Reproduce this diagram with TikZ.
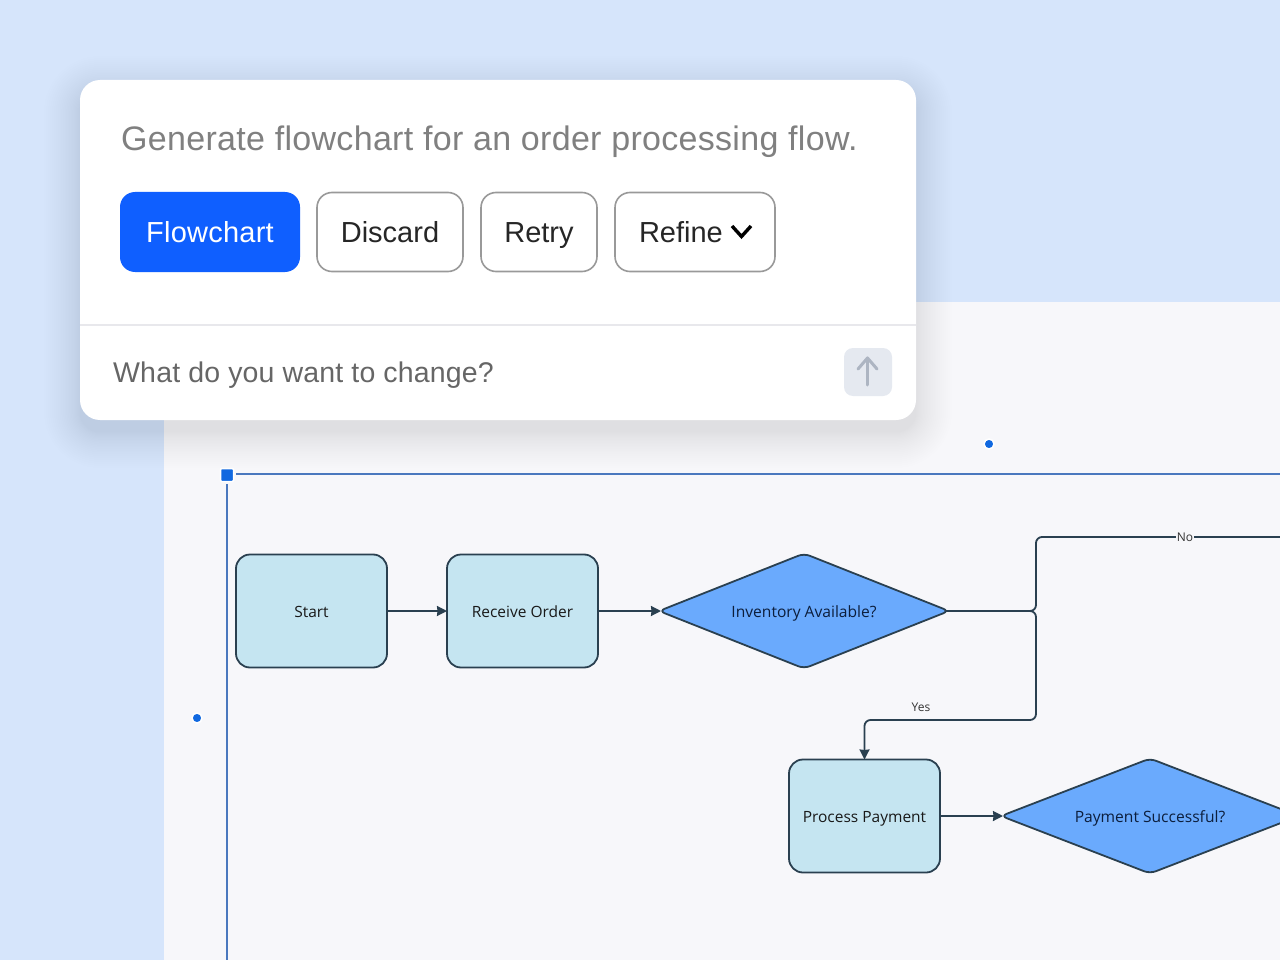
\documentclass[tikz,border=0pt]{standalone}
\usepackage{fontspec}
\setmainfont{Liberation Sans}
\newfontfamily\chartfont{Open Sans}
\usetikzlibrary{positioning,arrows.meta,shapes.geometric}
\definecolor{pagebg}{HTML}{D6E5FB}
\definecolor{canvasbg}{HTML}{F7F7FA}
\definecolor{brandblue}{HTML}{0F5FFF}
\definecolor{btnedge}{HTML}{999999}
\definecolor{panelline}{HTML}{E8E8EC}
\definecolor{selline}{HTML}{4A78BE}
\definecolor{handleblue}{HTML}{1068E0}
\definecolor{procfill}{HTML}{C5E5F1}
\definecolor{decfill}{HTML}{6AAAFD}
\definecolor{chartline}{HTML}{2A4050}
\definecolor{chartnavy}{HTML}{0C1E3C}
\definecolor{sendfill}{HTML}{E5E9F0}
\definecolor{sendmark}{HTML}{ADB5C2}
\definecolor{shadowtint}{HTML}{1C2C4C}
\tikzset{
    uibtn/.style={draw=btnedge, line width=1.6pt, fill=white, rounded corners=15pt, minimum height=79pt, inner sep=0pt, outer sep=0pt, text=black!85, text height=25pt, text depth=4pt, font=\fontsize{29}{34}\selectfont},
    procbox/.style={draw=chartline, line width=1.8pt, fill=procfill, rounded corners=14pt, minimum width=151pt, minimum height=113pt, inner sep=0pt, outer sep=0pt, text height=14pt, text depth=2pt, font=\chartfont\fontsize{15.5}{18}\selectfont, text=black!90},
    decbox/.style={diamond, draw=chartline, line width=1.8pt, fill=decfill, rounded corners=6pt, minimum width=290pt, minimum height=115pt, shape aspect=2.52, inner sep=0pt, outer sep=0pt, text height=14pt, text depth=2pt, font=\chartfont\fontsize{15.6}{18}\selectfont, text=chartnavy},
    flowline/.style={draw=chartline, line width=1.8pt, rounded corners=6pt},
    flowarrow/.style={flowline, -{Stealth[length=10pt,width=10pt,inset=0.5pt]}},
    edgetext/.style={font=\chartfont\fontsize{12}{14}\selectfont, text=black!80, inner sep=1pt},
    handledot/.style={circle, fill=handleblue, draw=white, line width=1.5pt, minimum size=10pt, inner sep=0pt}
}
\begin{document}
\begin{tikzpicture}[x=1pt, y=-1pt]
        \useasboundingbox (0,0) rectangle (1280,960);
        \clip (0,0) rectangle (1280,960);
        \fill[pagebg] (0,0) rectangle (1280,960);
        \fill[canvasbg] (164,302) rectangle (1280,960);

        \draw[selline, line width=1.3pt] (236,474) -- (1280,474);
        \draw[selline, line width=1.6pt] (227,484) -- (227,960);
        \node[fill=handleblue, draw=white, line width=1.5pt, rounded corners=1pt, minimum size=13pt, inner sep=0pt] (corner) at (227,475) {};
        \node[handledot] (dotTop) at (989,444) {};
        \node[handledot] (dotLeft) at (197,718) {};

        \node[procbox] (start) at (311.5,611) {Start};
        \node[procbox, right=60pt of start] (receive) {Receive Order};
        \node[decbox, right=61pt of receive] (inventory) {Inventory Available?};
        \node[procbox] (payment) at (864.5,816) {Process Payment};
        \node[decbox, minimum width=298pt, right=61pt of payment] (success) {Payment Successful?};
        \coordinate (offNo) at (1280,537);

        \draw[flowarrow] (start) -- (receive);
        \draw[flowarrow, shorten >=-2pt] (receive) -- (inventory);
        \draw[flowarrow, shorten >=-2pt] (payment) -- (success);
        \draw[flowline, shorten <=-3pt] (inventory.east) -- (1036,611) -- (1036,537) -- (offNo);
        \draw[flowarrow, shorten <=-3pt] (inventory.east) -- (1036,611) -- (1036,720) -- (864.5,720) -- (payment.north);
        \node[edgetext, fill=canvasbg] (labelNo) at (1185,537) {No};
        \node[edgetext] (labelYes) at (921,707) {Yes};

        \foreach \i [evaluate=\i as \d using {36*(\i/24)^1.4}, evaluate=\i as \r using {20+36*(\i/24)^1.4}] in {1,2,...,24}
            \fill[shadowtint, opacity=0.005, rounded corners=\r pt] (80-\d,92-\d) rectangle (916+\d,432+\d);
        \fill[white, rounded corners=20pt] (80,80) rectangle (916,420);
        \draw[panelline, line width=1.5pt] (80,325) -- (916,325);

        \node[anchor=base west, inner sep=0pt, text=black!50, font=\fontsize{34}{40}\selectfont\addfontfeatures{LetterSpace=0.9}] (title) at (121,151) {Generate flowchart for an order processing flow.};
        \node[uibtn, draw=none, fill=brandblue, text=white, minimum width=180pt, minimum height=80pt, font=\fontsize{29}{34}\selectfont\addfontfeatures{LetterSpace=0.8}] (flowchart) at (210,232) {Flowchart};
        \node[uibtn, minimum width=146pt, right=17pt of flowchart] (discard) {Discard};
        \node[uibtn, minimum width=116pt, right=18pt of discard] (retry) {Retry};
        \node[uibtn, minimum width=160pt, right=18pt of retry, text width=112pt, align=left] (refine) {Refine};
        \draw[black, line width=3.4pt] (732,226) -- (741.5,236.5) -- (751,226);

        \node[anchor=base west, inner sep=0pt, text=black!60, font=\fontsize{28.5}{34}\selectfont\addfontfeatures{LetterSpace=0.6}] (prompt) at (113,382) {What do you want to change?};
        \node[fill=sendfill, rounded corners=9pt, minimum size=48pt, inner sep=0pt] (send) at (868,372) {};
        \coordinate (sendTip) at (867.5,358);
        \draw[sendmark, line width=3pt, line cap=round] (867.5,385) -- (sendTip);
        \draw[sendmark, line width=3pt, line cap=round, line join=round] (858,369) -- (sendTip) -- (877,369);
    \end{tikzpicture}
\end{document}
